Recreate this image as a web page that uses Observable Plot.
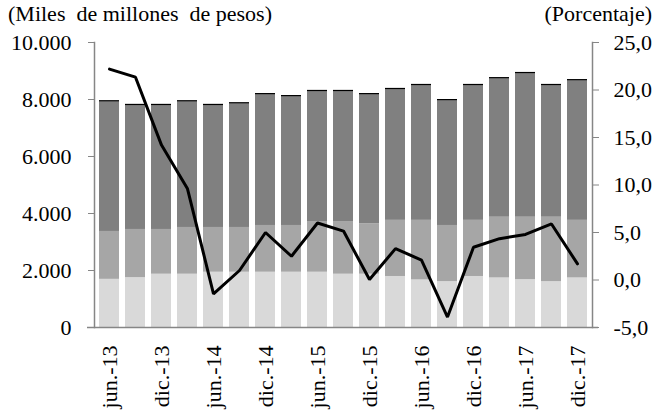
<!DOCTYPE html>
<html>
<head>
<meta charset="utf-8">
<script src="https://cdn.jsdelivr.net/npm/d3@7"></script>
<script src="https://cdn.jsdelivr.net/npm/@observablehq/plot@0.6"></script>
<style>
  html, body { margin: 0; padding: 0; background: #fff; }
  #wrap { position: relative; width: 657px; height: 413px; overflow: hidden; font-family: "Liberation Serif", Tinos, "Times New Roman", Times, "DejaVu Serif", serif; }
  .ttl { position: absolute; top: 2px; font-size: 22px; color: #000; white-space: pre; line-height: 24px; }
</style>
</head>
<body>
<div id="wrap">
  <div class="ttl" style="left:8px;">(Miles  de millones  de pesos)</div>
  <div class="ttl" style="right:5px;">(Porcentaje)</div>
</div>
<script>
const categories = ["jun.-13","sep.-13","dic.-13","mar.-14","jun.-14","sep.-14","dic.-14","mar.-15","jun.-15","sep.-15","dic.-15","mar.-16","jun.-16","sep.-16","dic.-16","mar.-17","jun.-17","sep.-17","dic.-17"];
const tickLabels = ["jun.-13","dic.-13","jun.-14","dic.-14","jun.-15","dic.-15","jun.-16","dic.-16","jun.-17","dic.-17"];
const seriesNames = ["Serie 1","Serie 2","Serie 3","Serie 4"];
const serie1 = [1690,1750,1870,1870,1940,1940,1940,1940,1940,1870,1870,1790,1670,1610,1790,1740,1680,1610,1740];
const serie2 = [1680,1690,1570,1640,1570,1570,1640,1640,1760,1830,1770,1970,2090,1970,1970,2130,2190,2260,2020];
const serie3 = [4540,4340,4340,4400,4270,4330,4580,4510,4570,4570,4520,4580,4720,4370,4720,4850,5030,4610,4890];
const serie4 = [50,50,50,50,50,50,50,50,50,50,50,50,50,50,50,50,50,50,50];
const porcentaje = [22.2,21.35,14.2,9.6,-1.45,1.0,5.0,2.5,6.0,5.15,0.05,3.3,2.1,-3.9,3.45,4.35,4.8,5.9,1.7];
const leftTicks = [0,2000,4000,6000,8000,10000];
const rightTicks = [-5,0,5,10,15,20,25];
const colors = ["#d9d9d9","#a6a6a6","#808080","#000000"];

const locale = d3.formatLocale({decimal: ",", thousands: ".", grouping: [3], currency: ["$",""], minus: "-"});
const fmtLeft = locale.format(",.0f");
const fmtRight = locale.format(".1f");

const allSeries = [serie1, serie2, serie3, serie4];
const stacked = [];
categories.forEach((c, i) => {
  seriesNames.forEach((s, j) => stacked.push({cat: c, series: s, value: allSeries[j][i]}));
});
const lineData = categories.map((c, i) => ({cat: c, pct: porcentaje[i]}));

const y2 = d3.scaleLinear().domain([-5, 25]).range([0, 10000]);
const axisColor = "#868686";

const chart = Plot.plot({
  width: 657,
  height: 413,
  marginTop: 42,
  marginBottom: 86,
  marginLeft: 94,
  marginRight: 65,
  style: {fontFamily: "'Liberation Serif', Tinos, 'Times New Roman', Times, 'DejaVu Serif', serif", fontSize: "22px", color: "#000", background: "transparent", overflow: "visible"},
  x: {domain: categories, paddingInner: 0.24, paddingOuter: 0.08, label: null},
  y: {domain: [0, 10000], label: null},
  color: {domain: seriesNames, range: colors},
  marks: [
    Plot.barY(stacked, {x: "cat", y: "value", fill: "series", order: seriesNames}),
    Plot.lineY(lineData, {x: "cat", y: d => y2(d.pct), stroke: "#000", strokeWidth: 3, strokeLinejoin: "miter"}),
    Plot.frame({anchor: "left", stroke: axisColor, strokeWidth: 1.5}),
    Plot.frame({anchor: "right", stroke: axisColor, strokeWidth: 1.5}),
    Plot.ruleY([0], {stroke: axisColor, strokeWidth: 1.5, insetLeft: -7, insetRight: -6}),
    Plot.axisY(leftTicks, {anchor: "left", tickSize: 6, tickPadding: 17, stroke: axisColor, tickFormat: fmtLeft, fill: "#000", label: null}),
    Plot.axisY(rightTicks, {anchor: "right", y: d => y2(d), tickSize: 6, tickPadding: 15, stroke: axisColor, tickFormat: fmtRight, fill: "#000", textAnchor: "start", label: null}),
    Plot.axisX(tickLabels, {anchor: "bottom", tickSize: 0, tickPadding: 18, tickRotate: -90, fill: "#000", label: null})
  ]
});
document.getElementById("wrap").appendChild(chart);
chart.style.position = "absolute";
chart.style.left = "0px";
chart.style.top = "0px";
</script>
</body>
</html>
